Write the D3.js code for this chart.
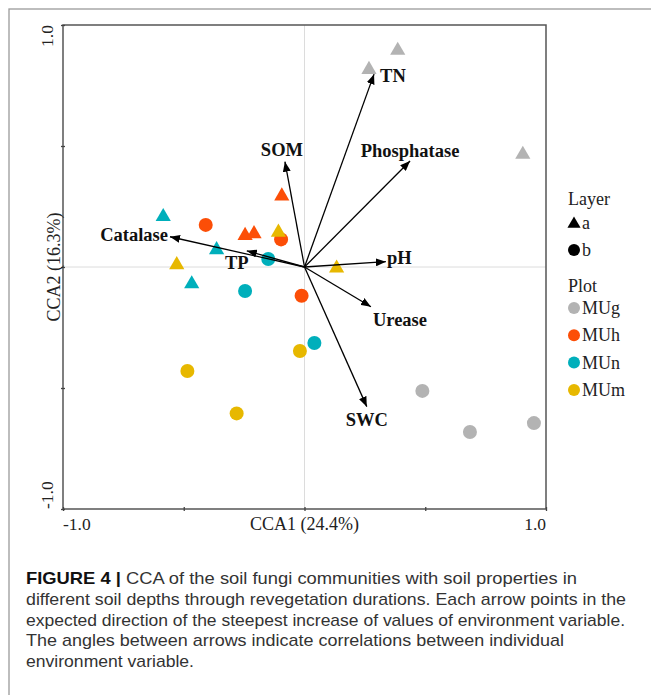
<!DOCTYPE html>
<html>
<head>
<meta charset="utf-8">
<script src="https://cdn.jsdelivr.net/npm/d3@7"></script>
<style>
  html, body { margin: 0; padding: 0; background: #fff; }
  svg { display: block; }
</style>
</head>
<body>
<svg id="chart" width="651" height="695"></svg>
<script>
// Sample scores on the first two canonical axes
const plots = ["MUg", "MUh", "MUn", "MUm"];
const layers = ["a", "b"];

const samplePlot  = ["MUg","MUg","MUg","MUg","MUg","MUg",
                     "MUh","MUh","MUh","MUh","MUh","MUh",
                     "MUn","MUn","MUn","MUn","MUn","MUn",
                     "MUm","MUm","MUm","MUm","MUm","MUm"];
const sampleLayer = ["a","a","a","b","b","b",
                     "a","a","a","b","b","b",
                     "a","a","a","b","b","b",
                     "a","a","a","b","b","b"];
const sampleCCA1  = [0.386, 0.267, 0.904, 0.488, 0.685, 0.950,
                     -0.094, -0.246, -0.209, -0.409, -0.097, -0.012,
                     -0.585, -0.364, -0.467, -0.150, -0.246, 0.041,
                     -0.108, -0.529, 0.133, -0.019, -0.485, -0.281];
const sampleCCA2  = [0.895, 0.816, 0.465, -0.512, -0.682, -0.645,
                     0.293, 0.130, 0.137, 0.174, 0.114, -0.119,
                     0.208, 0.071, -0.070, 0.033, -0.099, -0.314,
                     0.143, 0.009, -0.005, -0.347, -0.430, -0.605];

// Environmental variable vectors
const envVars = ["TN", "Phosphatase", "pH", "Urease", "SWC", "SOM", "Catalase", "TP"];
const envCCA1 = [0.288, 0.437, 0.337, 0.275, 0.258, -0.081, -0.557, -0.239];
const envCCA2 = [0.797, 0.438, 0.022, -0.164, -0.577, 0.435, 0.125, 0.067];

const axisTicks = [-1, -0.5, 0, 0.5, 1];
const axisLabels = ["-1.0", "1.0"];

// Label placement relative to each arrow tip: [dx, dy, anchor]
const envLabelPlacement = {
  "TN": [6, 8, "start"],
  "Phosphatase": [0, -4, "middle"],
  "pH": [1, 2, "start"],
  "Urease": [2, 19, "start"],
  "SWC": [0, 19, "middle"],
  "SOM": [-3, -6, "middle"],
  "Catalase": [-2, 4, "end"],
  "TP": [-10, 18, "middle"]
};

const palette = { MUg: "#b3b3b3", MUh: "#fc4e07", MUn: "#00afbb", MUm: "#e7b800" };

const captionLines = [
  [["FIGURE 4 | ", true], ["CCA of the soil fungi communities with soil properties in", false]],
  [["different soil depths through revegetation durations. Each arrow points in the", false]],
  [["expected direction of the steepest increase of values of environment variable.", false]],
  [["The angles between arrows indicate correlations between individual", false]],
  [["environment variable.", false]]
];

const svg = d3.select("#chart");
const serif = "'Liberation Serif', 'Times New Roman', serif";

// outer figure frame
svg.append("rect")
  .attr("x", 9).attr("y", 9).attr("width", 700).attr("height", 720)
  .attr("fill", "none").attr("stroke", "#9a9a9a").attr("stroke-width", 1.3);

const plotBox = { left: 63, right: 546, top: 25, bottom: 509 };
const x = d3.scaleLinear().domain([-1, 1]).range([plotBox.left, plotBox.right]);
const y = d3.scaleLinear().domain([-1, 1]).range([plotBox.bottom, plotBox.top]);

// zero reference lines
svg.append("line")
  .attr("x1", x(0)).attr("x2", x(0)).attr("y1", y(1)).attr("y2", y(-1))
  .attr("stroke", "#dcdcdc").attr("stroke-width", 1);
svg.append("line")
  .attr("x1", x(-1)).attr("x2", x(1)).attr("y1", y(0)).attr("y2", y(0))
  .attr("stroke", "#dcdcdc").attr("stroke-width", 1);

// panel border
svg.append("rect")
  .attr("x", plotBox.left).attr("y", plotBox.top)
  .attr("width", plotBox.right - plotBox.left).attr("height", plotBox.bottom - plotBox.top)
  .attr("fill", "none").attr("stroke", "#555").attr("stroke-width", 1.5);

// ticks
const xAxis = svg.append("g").attr("transform", `translate(0,${plotBox.bottom})`)
  .call(d3.axisBottom(x).tickValues(axisTicks).tickSize(4).tickFormat(""));
const yAxis = svg.append("g").attr("transform", `translate(${plotBox.left},0)`)
  .call(d3.axisLeft(y).tickValues(axisTicks).tickSize(-4).tickFormat(""));
[xAxis, yAxis].forEach(g => {
  g.select(".domain").remove();
  g.selectAll(".tick line").attr("stroke", "#444").attr("stroke-width", 1.3)
    .attr("transform", g === xAxis ? "translate(0,-2)" : "translate(-2,0)");
});

// tick labels (ends only)
const tickFont = { family: serif, size: 17.5 };
svg.append("text").attr("x", x(-1)).attr("y", 530).attr("text-anchor", "start")
  .attr("font-family", tickFont.family).attr("font-size", tickFont.size).attr("fill", "#222").text(axisLabels[0]);
svg.append("text").attr("x", x(1)).attr("y", 530).attr("text-anchor", "end")
  .attr("font-family", tickFont.family).attr("font-size", tickFont.size).attr("fill", "#222").text(axisLabels[1]);
svg.append("text").attr("transform", `translate(53,${y(-1)}) rotate(-90)`).attr("text-anchor", "start")
  .attr("font-family", tickFont.family).attr("font-size", tickFont.size).attr("fill", "#222").text(axisLabels[0]);
svg.append("text").attr("transform", `translate(53,${y(1)}) rotate(-90)`).attr("text-anchor", "end")
  .attr("font-family", tickFont.family).attr("font-size", tickFont.size).attr("fill", "#222").text(axisLabels[1]);

// axis titles
svg.append("text").attr("x", x(0)).attr("y", 530).attr("text-anchor", "middle")
  .attr("font-family", serif).attr("font-size", 18).attr("fill", "#222").text("CCA1 (24.4%)");
svg.append("text").attr("transform", `translate(60,${y(0)}) rotate(-90)`).attr("text-anchor", "middle")
  .attr("font-family", serif).attr("font-size", 18).attr("fill", "#222").text("CCA2 (16.3%)");

// sample points
const samples = samplePlot.map((p, i) => ({
  plot: p, layer: sampleLayer[i], cx: sampleCCA1[i], cy: sampleCCA2[i]
}));
const triangle = d3.symbol().type(d3.symbolTriangle).size(100);
const pts = svg.append("g");
samples.forEach(s => {
  if (s.layer === "a") {
    pts.append("path").attr("d", triangle())
      .attr("transform", `translate(${x(s.cx)},${y(s.cy)})`)
      .attr("fill", palette[s.plot]);
  } else {
    pts.append("circle").attr("cx", x(s.cx)).attr("cy", y(s.cy)).attr("r", 7)
      .attr("fill", palette[s.plot]);
  }
});

// arrows
svg.append("defs").append("marker")
  .attr("id", "head").attr("viewBox", "0 0 10 8").attr("refX", 10).attr("refY", 4)
  .attr("markerWidth", 10).attr("markerHeight", 8).attr("markerUnits", "userSpaceOnUse")
  .attr("orient", "auto")
  .append("path").attr("d", "M0,0 L10,4 L0,8 Z").attr("fill", "#000");

const arrows = svg.append("g");
envVars.forEach((v, i) => {
  const tx = x(envCCA1[i]), ty = y(envCCA2[i]);
  arrows.append("line")
    .attr("x1", x(0)).attr("y1", y(0)).attr("x2", tx).attr("y2", ty)
    .attr("stroke", "#000").attr("stroke-width", 1.3).attr("marker-end", "url(#head)");
  const [dx, dy, anchor] = envLabelPlacement[v];
  arrows.append("text")
    .attr("x", tx + dx).attr("y", ty + dy).attr("text-anchor", anchor)
    .attr("font-family", serif).attr("font-weight", "bold").attr("font-size", 18.5)
    .attr("fill", "#111").text(v);
});

// legend
const lg = svg.append("g").attr("font-family", serif).attr("font-size", 18).attr("fill", "#222");
lg.append("text").attr("x", 568).attr("y", 205).text("Layer");
layers.forEach((l, i) => {
  const cy = 223 + i * 27;
  if (l === "a") {
    lg.append("path").attr("d", d3.symbol().type(d3.symbolTriangle).size(75)())
      .attr("transform", `translate(574,${cy + 1})`).attr("fill", "#000");
  } else {
    lg.append("circle").attr("cx", 574).attr("cy", cy).attr("r", 6).attr("fill", "#000");
  }
  lg.append("text").attr("x", 582).attr("y", cy + 6).text(l);
});
lg.append("text").attr("x", 568).attr("y", 292).text("Plot");
plots.forEach((p, i) => {
  const cy = 308 + i * 27.3;
  lg.append("circle").attr("cx", 574).attr("cy", cy).attr("r", 6).attr("fill", palette[p]);
  lg.append("text").attr("x", 582).attr("y", cy + 6).text(p);
});

// caption
const capEnds = [577, 626, 625, 564, 194];
const cap = svg.append("g").attr("font-family", "'Liberation Sans', Arial, sans-serif")
  .attr("font-size", 17).attr("fill", "#333");
captionLines.forEach((segs, i) => {
  const t = cap.append("text").attr("x", 26).attr("y", 584 + i * 20.8)
    .attr("textLength", capEnds[i] - 26).attr("lengthAdjust", "spacingAndGlyphs");
  segs.forEach(([s, b]) => {
    t.append("tspan").attr("font-weight", b ? "bold" : "normal")
      .attr("fill", b ? "#111" : null).text(s);
  });
});
</script>
</body>
</html>
